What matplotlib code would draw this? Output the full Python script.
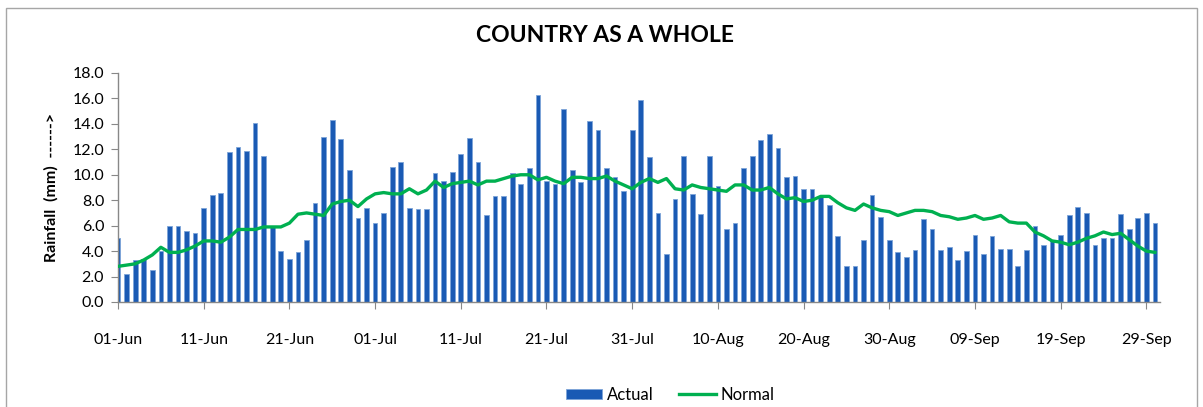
import numpy as np
import matplotlib
matplotlib.use('Agg')
import matplotlib.pyplot as plt
from matplotlib.patches import Rectangle

plt.rcParams['font.family'] = ['Lato', 'DejaVu Sans']

# ----------------------------------------------------------
# DATA (daily rainfall, 01-Jun to 30-Sep)
# ----------------------------------------------------------
actual = [
    5.0, 2.2, 3.3, 3.4, 2.5, 4.0, 6.0, 6.0, 5.6, 5.4,        # 01-10 Jun
    7.4, 8.4, 8.6, 11.8, 12.2, 11.9, 14.1, 11.5, 6.0, 4.0,   # 11-20 Jun
    3.4, 3.9, 4.9, 7.8, 13.0, 14.3, 12.8, 10.4, 6.6, 7.4,    # 21-30 Jun
    6.2, 7.0, 10.6, 11.0, 7.4, 7.3, 7.3, 10.1, 9.5, 10.2,    # 01-10 Jul
    11.6, 12.9, 11.0, 6.8, 8.3, 8.3, 10.1, 9.3, 10.5, 16.3,  # 11-20 Jul
    9.5, 9.3, 15.2, 10.4, 9.4, 14.2, 13.5, 10.5, 9.8, 8.7,   # 21-30 Jul
    13.5, 15.9, 11.4, 7.0, 3.8, 8.1, 11.5, 8.5, 6.9, 11.5,   # 31 Jul-09 Aug
    9.1, 5.7, 6.2, 10.5, 11.5, 12.7, 13.2, 12.1, 9.8, 9.9,   # 10-19 Aug
    8.9, 8.9, 8.3, 7.6, 5.2, 2.8, 2.8, 4.9, 8.4, 6.7,        # 20-29 Aug
    4.9, 3.9, 3.5, 4.1, 6.5, 5.7, 4.1, 4.3, 3.3, 4.0,        # 30 Aug-08 Sep
    5.3, 3.8, 5.2, 4.2, 4.2, 2.8, 4.1, 6.0, 4.5, 4.9,        # 09-18 Sep
    5.3, 6.8, 7.5, 7.0, 4.5, 5.0, 5.0, 6.9, 5.7, 6.6,        # 19-28 Sep
    7.0, 6.2,                                                # 29-30 Sep
]
normal = [
    2.8, 2.9, 3.0, 3.3, 3.7, 4.3, 3.9, 3.9, 4.1, 4.4,
    4.8, 4.8, 4.7, 5.1, 5.7, 5.7, 5.7, 5.9, 5.9, 5.9,
    6.2, 6.9, 7.0, 6.9, 6.8, 7.7, 7.9, 8.0, 7.5, 8.1,
    8.5, 8.6, 8.5, 8.5, 8.9, 8.5, 8.8, 9.5, 9.0, 9.3,
    9.4, 9.5, 9.2, 9.5, 9.5, 9.7, 9.9, 10.0, 10.0, 9.6,
    9.8, 9.5, 9.3, 9.8, 9.8, 9.7, 9.7, 9.9, 9.5, 9.2,
    8.9, 9.4, 9.7, 9.4, 9.7, 8.9, 8.8, 9.2, 9.0, 8.9,
    8.8, 8.7, 9.2, 9.2, 8.8, 8.8, 9.0, 8.5, 8.1, 8.2,
    7.9, 8.0, 8.3, 8.3, 7.8, 7.4, 7.2, 7.7, 7.4, 7.2,
    7.1, 6.8, 7.0, 7.2, 7.2, 7.1, 6.8, 6.7, 6.5, 6.6,
    6.8, 6.5, 6.6, 6.8, 6.3, 6.2, 6.2, 5.5, 5.2, 4.8,
    4.7, 4.5, 4.7, 5.0, 5.2, 5.5, 5.3, 5.4, 4.9, 4.4,
    4.0, 3.9,
]
tick_labels = ['01-Jun', '11-Jun', '21-Jun', '01-Jul', '11-Jul', '21-Jul', '31-Jul',
               '10-Aug', '20-Aug', '30-Aug', '09-Sep', '19-Sep', '29-Sep']

days = np.arange(len(actual))

# ----------------------------------------------------------
# FIGURE
# ----------------------------------------------------------
fig = plt.figure(figsize=(12.03, 4.07), dpi=100)
fig.patches.append(Rectangle((0.005, -0.1), 0.99, 1.08, transform=fig.transFigure,
                             fill=False, edgecolor='#a6a6a6', linewidth=1.0))

ax = fig.add_axes([0.0981, 0.258, 0.8662, 0.5627])
bars = ax.bar(days, actual, width=0.55, color='#1a5ab4', edgecolor='#7da4d8',
              linewidth=0.6, label='Actual', zorder=2)
line, = ax.plot(days, normal, color='#00b050', linewidth=2.4, label='Normal', zorder=3)

ax.set_xlim(0, len(actual) - 0.4)
ax.set_ylim(0, 18)
ax.set_yticks(np.arange(0, 18.1, 2))
ax.set_yticklabels([f'{v:.1f}' for v in np.arange(0, 18.1, 2)])
ax.set_xticks(np.arange(0, len(actual), 10))
ax.set_xticklabels(tick_labels)

for s in ['top', 'right']:
    ax.spines[s].set_visible(False)
for s in ['left', 'bottom']:
    ax.spines[s].set_color('#888888')
    ax.spines[s].set_linewidth(1.0)
ax.tick_params(axis='y', length=5, color='#888888', labelsize=11.5, pad=5)
ax.tick_params(axis='x', length=5, color='#888888', labelsize=11.5, pad=17)

ax.set_ylabel('Rainfall  (mm)  ------>', fontsize=11.5, fontweight='bold', labelpad=10)
fig.text(0.503, 0.912, 'COUNTRY AS A WHOLE', ha='center', va='center',
         fontsize=16.5, fontweight='bold')

fig.legend([bars, line], ['Actual', 'Normal'], loc='center',
           bbox_to_anchor=(0.557, 0.03), ncol=2, frameon=False,
           fontsize=12, handlelength=2.2, handleheight=0.6,
           columnspacing=1.5, handletextpad=0.3)

fig.savefig('out.png', dpi=100)
